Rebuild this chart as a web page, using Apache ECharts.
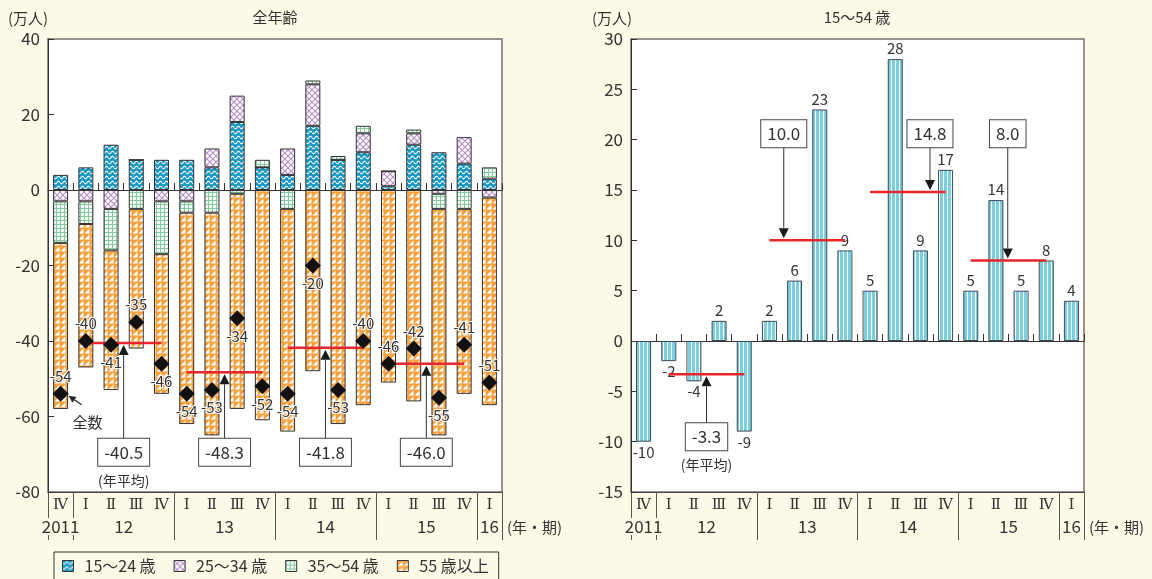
<!DOCTYPE html>
<html><head><meta charset="utf-8">
<script src="https://cdn.jsdelivr.net/npm/echarts@6/dist/echarts.min.js"></script>
<style>html,body{margin:0;padding:0;background:#fdf9e7;}#c{width:1152px;height:579px;}</style>
</head><body><div id="c"></div>
<script>
// ---------- data ----------
const categories = ['2011-IV','2012-I','2012-II','2012-III','2012-IV','2013-I','2013-II','2013-III','2013-IV',
  '2014-I','2014-II','2014-III','2014-IV','2015-I','2015-II','2015-III','2015-IV','2016-I'];
const quarterLabels = ['Ⅳ','Ⅰ','Ⅱ','Ⅲ','Ⅳ','Ⅰ','Ⅱ','Ⅲ','Ⅳ','Ⅰ','Ⅱ','Ⅲ','Ⅳ','Ⅰ','Ⅱ','Ⅲ','Ⅳ','Ⅰ'];
const yearLabels = ['2011','12','13','14','15','16'];
const yearCenters = [0, 2.5, 6.5, 10.5, 14.5, 17];
const yearBounds = [-0.5, 0.5, 4.5, 8.5, 12.5, 16.5, 17.5];

const age15_24 = [4, 6, 12, 8, 8, 8, 6, 18, 6, 4, 17, 8, 10, 1, 12, 10, 7, 3];
const age25_34 = [-3, -3, -5, 0, -3, -3, 5, 7, 0, 7, 11, 0, 5, 4, 3, -1, 7, -2];
const age35_54 = [-11, -6, -11, -5, -14, -3, -6, -1, 2, -5, 1, 1, 2, 0, 1, -4, -5, 3];
const age55up  = [-44, -38, -37, -37, -37, -56, -59, -57, -61, -59, -48, -62, -57, -51, -56, -60, -49, -55];
const totalAll = [-54, -40, -41, -35, -46, -54, -53, -34, -52, -54, -20, -53, -40, -46, -42, -55, -41, -51];
const young15_54 = [-10, -2, -4, 2, -9, 2, 6, 23, 9, 5, 28, 9, 17, 5, 14, 5, 8, 4];
const avgAll = [-40.5, -48.3, -41.8, -46.0];
const avgYoung = [-3.3, 10.0, 14.8, 8.0];
const seriesNames = ['15〜24 歳', '25〜34 歳', '35〜54 歳', '55 歳以上'];

// ---------- styles ----------
const FONT = "'Noto Sans CJK JP','Noto Sans',sans-serif";
const BG = '#fdf9e7';
const TXT = '#333';

function pattern(w, h, draw) {
  const c = document.createElement('canvas');
  c.width = w; c.height = h;
  draw(c.getContext('2d'), w, h);
  return { image: c, repeat: 'repeat' };
}
const patTeal = pattern(6, 5, (ctx, w, h) => {
  ctx.fillStyle = '#1b98c2'; ctx.fillRect(0, 0, w, h);
  ctx.strokeStyle = '#fff'; ctx.lineWidth = 1.1; ctx.beginPath();
  for (let x = 0; x <= w; x += 0.25) {
    const y = 2.5 + 1.2 * Math.sin(x / w * Math.PI * 2);
    if (x === 0) ctx.moveTo(x, y); else ctx.lineTo(x, y);
  }
  ctx.stroke();
});
const patPurple = pattern(6, 6, (ctx, w, h) => {
  ctx.fillStyle = '#fff'; ctx.fillRect(0, 0, w, h);
  ctx.strokeStyle = '#b68cc7'; ctx.lineWidth = 1.1; ctx.beginPath();
  ctx.moveTo(0, 0); ctx.lineTo(w, h); ctx.moveTo(w, 0); ctx.lineTo(0, h); ctx.stroke();
});
const patGreen = pattern(4, 4, (ctx, w, h) => {
  ctx.fillStyle = '#f3faf5'; ctx.fillRect(0, 0, w, h);
  ctx.fillStyle = '#86c9a0'; ctx.fillRect(0, 0, w, 1); ctx.fillRect(0, 0, 1, h);
});
const patOrange = pattern(6, 6, (ctx, w, h) => {
  ctx.fillStyle = '#f7a13d'; ctx.fillRect(0, 0, w, h);
  ctx.fillStyle = '#fff'; ctx.beginPath();
  ctx.moveTo(0.5, 5.5); ctx.lineTo(5.5, 0.5); ctx.lineTo(5.5, 5.5); ctx.closePath(); ctx.fill();
});
const patStripe = pattern(4, 2, (ctx, w, h) => {
  ctx.fillStyle = '#7ccfe3'; ctx.fillRect(0, 0, w, h);
  ctx.fillStyle = '#fff'; ctx.fillRect(3, 0, 1, h);
});
const patterns = [patTeal, patPurple, patGreen, patOrange];
const stackData = [age15_24, age25_34, age35_54, age55up];

const totalLabelSide = ['top','top','bottom','top','bottom','bottom','bottom','bottom','bottom',
  'bottom','bottom','bottom','top','top','top','bottom','top','top'];

// annotation placement (x in category-index units, y in value units)
const leftNotePos = { arrowX: [2.5, 6.5, 10.5, 14.5], boxY: [-69.5, -69.5, -69.5, -69.5] };
const rightNotePos = { arrowX: [2.5, 5.57, 11.38, 14.47], boxY: [-9.5, 20.6, 20.6, 20.6] };

function noteData(avgs, pos) {
  return avgs.map((a, i) => [1 + 4 * i, 4 + 4 * i, a, pos.arrowX[i], pos.boxY[i]]);
}

function annotRender(params, api) {
  const i = params.dataIndex;
  const x1 = api.value(0), x2 = api.value(1), avg = api.value(2), ax = api.value(3), by = api.value(4);
  const p1 = api.coord([x1, avg]), p2 = api.coord([x2, avg]);
  const pa = api.coord([ax, avg]), pb = api.coord([ax, by]);
  const d = pa[1] > pb[1] ? 1 : -1;
  const boxH = 27;
  const tipY = pa[1] - d * 2;
  const baseY = tipY - d * 10;
  const edgeY = pb[1] + d * boxH / 2;
  const children = [
    { type: 'line', shape: { x1: p1[0], y1: p1[1], x2: p2[0], y2: p2[1] }, style: { stroke: '#e8262b', lineWidth: 2.5 } },
    { type: 'line', shape: { x1: pa[0], y1: edgeY, x2: pa[0], y2: baseY }, style: { stroke: '#333', lineWidth: 1 } },
    { type: 'polygon', shape: { points: [[pa[0], tipY], [pa[0] - 5, baseY], [pa[0] + 5, baseY]] }, style: { fill: '#1a1a1a' } },
    { type: 'text', style: { text: avg.toFixed(1), x: pb[0], y: pb[1], align: 'center', verticalAlign: 'middle',
        font: '17px ' + FONT, fill: TXT, backgroundColor: '#fff', borderColor: '#444', borderWidth: 1,
        lineHeight: 19, padding: [4, 6, 4, 6] } }
  ];
  if (i === 0) {
    children.push({ type: 'text', style: { text: '(年平均)', x: pb[0], y: pb[1] + 28, align: 'center',
      verticalAlign: 'middle', font: '14px ' + FONT, fill: TXT } });
  }
  return { type: 'group', children };
}

function xAxes(g) {
  return [
    { // zero line with boundary ticks
      type: 'category', gridIndex: g, data: categories, position: 'bottom',
      axisLine: { show: true, onZero: true, lineStyle: { color: '#333', width: 1 } },
      axisTick: { show: true, inside: true, length: 7, interval: 0, lineStyle: { color: '#333' } },
      axisLabel: { show: false }, splitLine: { show: false }
    },
    { // quarter labels at bottom
      type: 'category', gridIndex: g, data: quarterLabels, position: 'bottom',
      axisLine: { show: true, onZero: false, lineStyle: { color: '#444', width: 1 } },
      axisTick: { show: false },
      axisLabel: { show: true, interval: 0, margin: 6, fontSize: 15, color: TXT,
        fontFamily: "'DejaVu Serif','Liberation Serif',serif" },
      splitLine: { show: false }
    },
    { // year labels & separators (also used for annotations)
      type: 'value', gridIndex: g, min: -0.5, max: 17.5, position: 'bottom',
      axisLine: { show: false, onZero: false },
      splitLine: { show: false },
      axisTick: { show: true, customValues: yearBounds, length: 48, lineStyle: { color: '#555', width: 1 } },
      axisLabel: { show: true, customValues: yearCenters, margin: 26, fontSize: 17, color: TXT, fontFamily: FONT,
        backgroundColor: BG, padding: [0, 1, 0, 1],
        formatter: v => { const k = yearCenters.findIndex(c => Math.abs(c - v) < 1e-6); return k >= 0 ? yearLabels[k] : ''; } }
    }
  ];
}

function yAxis(g, min, max, interval) {
  return {
    type: 'value', gridIndex: g, min, max, interval,
    axisLine: { show: true, onZero: false, lineStyle: { color: '#333', width: 1 } },
    axisTick: { show: true, inside: true, length: 6, lineStyle: { color: '#333' } },
    axisLabel: { fontSize: 17, color: TXT, fontFamily: FONT, margin: 8 },
    splitLine: { show: false }
  };
}

const series = [];
stackData.forEach((arr, k) => {
  series.push({
    name: seriesNames[k], type: 'bar', stack: 'all', xAxisIndex: 0, yAxisIndex: 0, barWidth: 15,
    data: arr, itemStyle: { color: patterns[k], borderColor: '#333', borderWidth: 1 },
    emphasis: { disabled: true }
  });
});
series.push({
  name: '全数', type: 'scatter', xAxisIndex: 0, yAxisIndex: 0, z: 5,
  symbol: 'diamond', symbolSize: 16, itemStyle: { color: '#111', opacity: 1 },
  data: totalAll.map((v, i) => ({ value: v, label: { position: totalLabelSide[i] } })),
  label: { show: true, formatter: '{c}', distance: 2, fontSize: 15, color: TXT, fontFamily: FONT,
    textBorderColor: '#fff', textBorderWidth: 2 },
  emphasis: { disabled: true }
});
series.push({
  type: 'custom', xAxisIndex: 2, yAxisIndex: 0, z: 4, renderItem: annotRender,
  data: noteData(avgAll, leftNotePos), silent: true
});
series.push({
  name: '15〜54', type: 'bar', xAxisIndex: 3, yAxisIndex: 1, barWidth: 15,
  data: young15_54.map(v => ({ value: v, label: { position: v < 0 ? 'bottom' : 'top' } })),
  itemStyle: { color: patStripe, borderColor: '#3d4a52', borderWidth: 1 },
  label: { show: true, distance: 3, fontSize: 15, color: TXT, fontFamily: FONT },
  emphasis: { disabled: true }
});
series.push({
  type: 'custom', xAxisIndex: 5, yAxisIndex: 1, z: 4, renderItem: annotRender,
  data: noteData(avgYoung, rightNotePos), silent: true
});

const txt = (text, x, y, align, size) => ({
  type: 'text', x, y, style: { text, textAlign: align, textVerticalAlign: 'middle', font: size + 'px ' + FONT, fill: TXT }
});

const option = {
  backgroundColor: BG,
  animation: false,
  textStyle: { fontFamily: FONT },
  grid: [
    { left: 48, top: 39, width: 454, height: 453, show: true, backgroundColor: '#fff', borderColor: '#707070', borderWidth: 1.5, containLabel: false },
    { left: 631, top: 39, width: 453, height: 453, show: true, backgroundColor: '#fff', borderColor: '#707070', borderWidth: 1.5, containLabel: false }
  ],
  xAxis: [...xAxes(0), ...xAxes(1)],
  yAxis: [yAxis(0, -80, 40, 20), yAxis(1, -15, 30, 5)],
  legend: {
    data: seriesNames, left: 54, top: 552, icon: 'rect', itemWidth: 11, itemHeight: 11, itemGap: 18,
    borderColor: '#333', borderWidth: 1, padding: [6, 10, 14, 8],
    textStyle: { fontSize: 16, color: TXT, fontFamily: FONT, padding: [0, 0, 0, 6] },
    itemStyle: { borderColor: '#333', borderWidth: 1 }, selectedMode: false
  },
  graphic: [
    txt('(万人)', 8, 18, 'left', 15),
    txt('全年齢', 275, 17, 'center', 15),
    txt('(万人)', 592, 18, 'left', 15),
    txt('15〜54 歳', 857, 17, 'center', 15),
    txt('(年・期)', 507, 527, 'left', 15),
    txt('(年・期)', 1089, 527, 'left', 15)
  ],
  series
};

const chart = echarts.init(document.getElementById('c'));
chart.setOption(option);

// "全数" pointer next to the first total marker
const p = chart.convertToPixel({ xAxisIndex: 0, yAxisIndex: 0 }, [0, totalAll[0]]);
const ax0 = p[0] + 21, ay0 = p[1] + 11, ax1 = p[0] + 8, ay1 = p[1] + 2;
const ang = Math.atan2(ay1 - ay0, ax1 - ax0);
const hl = 7, hw = 3.5;
const bx = ax1 - hl * Math.cos(ang), by = ay1 - hl * Math.sin(ang);
chart.setOption({
  graphic: [
    ...option.graphic,
    { type: 'line', shape: { x1: ax0, y1: ay0, x2: bx, y2: by }, style: { stroke: '#222', lineWidth: 1.2 } },
    { type: 'polygon', shape: { points: [[ax1, ay1],
        [bx + hw * Math.sin(ang), by - hw * Math.cos(ang)], [bx - hw * Math.sin(ang), by + hw * Math.cos(ang)]] },
      style: { fill: '#222' } },
    txt('全数', p[0] + 27, p[1] + 28, 'center', 15)
  ]
});
</script></body></html>
